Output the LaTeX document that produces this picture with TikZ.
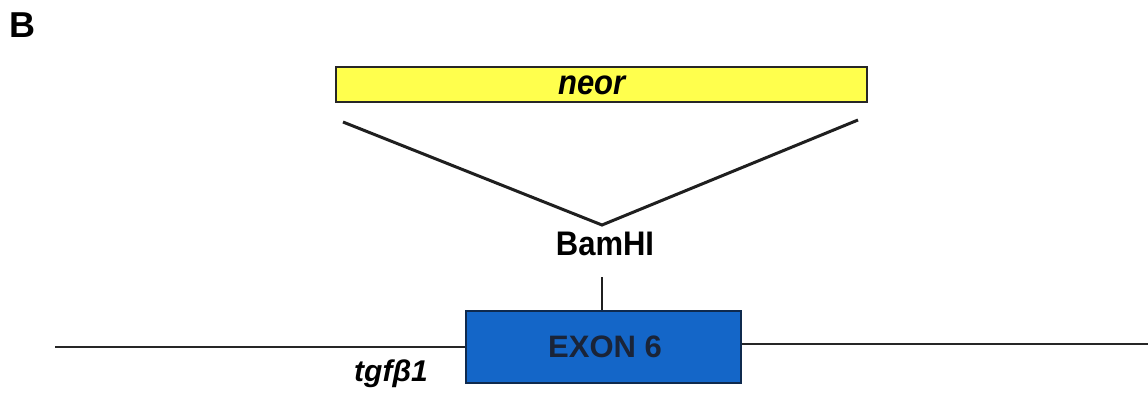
\documentclass[tikz,border=0pt]{standalone}
\usepackage{fontspec}
\setmainfont{Liberation Sans}
\definecolor{neoyellow}{HTML}{FFFF4D}
\definecolor{exonblue}{HTML}{1466C8}
\definecolor{exonedge}{HTML}{0F2A4E}
\definecolor{exontext}{HTML}{1A2438}
\begin{document}
\begin{tikzpicture}[x=1pt,y=-1pt,
  lbl/.style={inner sep=0pt,anchor=base,font=\fontsize{31}{31}\selectfont\bfseries},
  genline/.style={line width=2.4pt,color=black!85},
  armline/.style={line width=3pt,color=black!88}]
\useasboundingbox (0,0) rectangle (1148,393);

% panel letter
\node[inner sep=0pt,anchor=base west,font=\fontsize{36}{36}\selectfont\bfseries] (panel) at (9,38) {B};

% neomycin resistance cassette
\node[draw=black!85,line width=2.4pt,fill=neoyellow,minimum width=531pt,minimum height=35pt,inner sep=0pt,anchor=north west] (neo) at (335,66) {};
\node[lbl,font=\fontsize{31}{31}\selectfont\bfseries\itshape] (neolbl) at (592,95) {\scalebox{1}[1.12]{neor}};

% insertion arms
\coordinate (armL) at (343,122);
\coordinate (armR) at (858,120);
\coordinate (site) at (602,225);
\draw[armline,line join=miter] (armL) -- (site) -- (armR);

% restriction site
\node[lbl] (bam) at (605,255) {\scalebox{1}[1.1]{BamHI}};
\coordinate (tickTop) at (602,277);

% exon 6
\node[draw=exonedge,line width=2pt,fill=exonblue,minimum width=275pt,minimum height=72pt,inner sep=0pt,anchor=north west] (exon) at (465,310) {};
\node[lbl,text=exontext] (exonlbl) at (605,357) {EXON 6};
\draw[line width=2.8pt,color=black!88] (tickTop) -- (exon.north -| tickTop);

% genomic locus
\coordinate (locL) at (55,347);
\coordinate (locR) at (1148,344);
\draw[genline] (locL) -- (exon.west |- locL);
\draw[genline] (exon.east |- locR) -- (locR);
\node[lbl,font=\fontsize{30}{30}\selectfont\bfseries\itshape] (gene) at (391,381) {tgfβ1};
\end{tikzpicture}
\end{document}
